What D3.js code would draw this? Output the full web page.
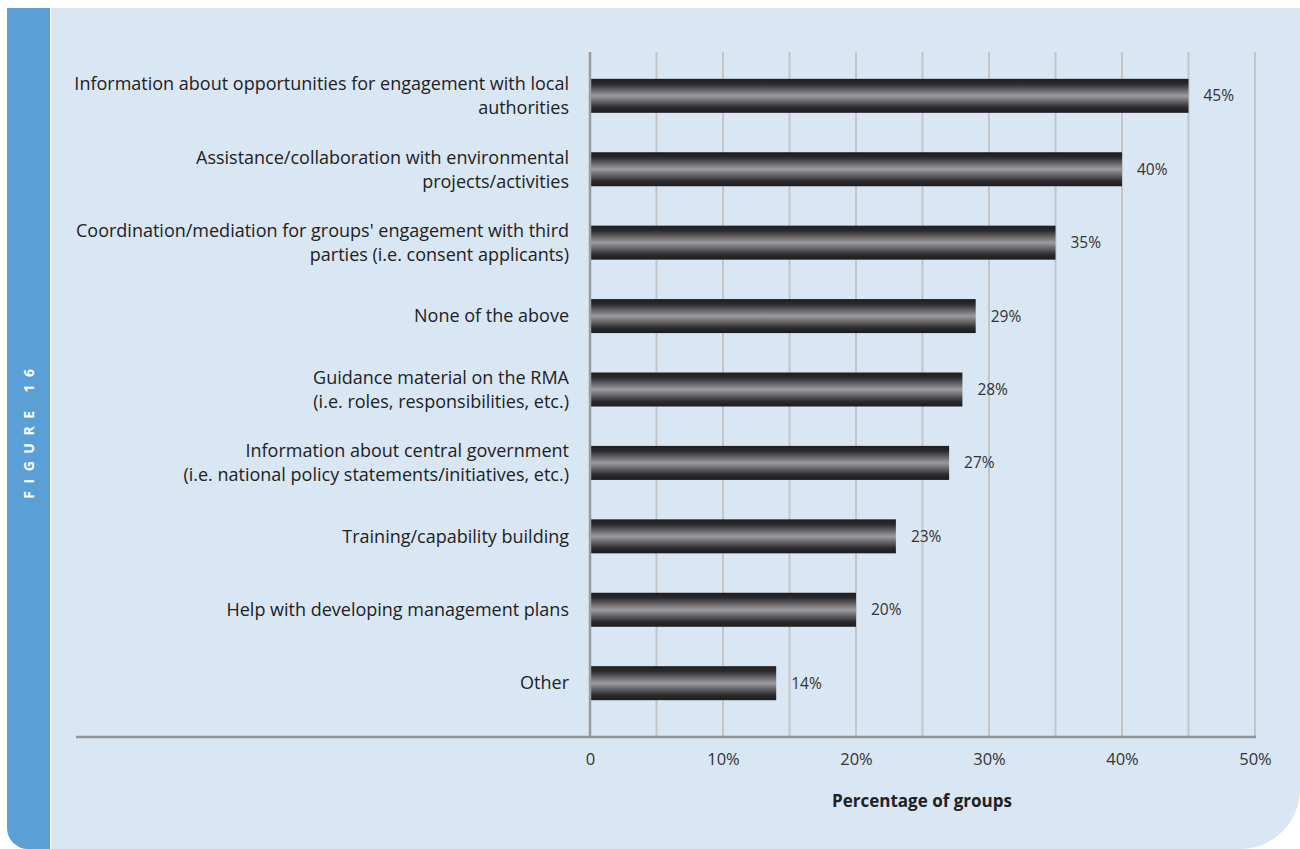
<!DOCTYPE html>
<html>
<head>
<meta charset="utf-8">
<script src="https://cdn.jsdelivr.net/npm/d3@7"></script>
<style>
  html, body { margin: 0; padding: 0; background: #ffffff; }
  svg { display: block; }
</style>
</head>
<body>
<svg id="chart" width="1300" height="849"></svg>
<script>
// Support options, each listed as one or two display lines
const categories = [
  ["Information about opportunities for engagement with local", "authorities"],
  ["Assistance/collaboration with environmental", "projects/activities"],
  ["Coordination/mediation for groups' engagement with third", "parties (i.e. consent applicants)"],
  ["None of the above"],
  ["Guidance material on the RMA", "(i.e. roles, responsibilities, etc.)"],
  ["Information about central government", "(i.e. national policy statements/initiatives, etc.)"],
  ["Training/capability building"],
  ["Help with developing management plans"],
  ["Other"]
];
const values = [45, 40, 35, 29, 28, 27, 23, 20, 14];
const xTicks = [0, 10, 20, 30, 40, 50];
const gridValues = [5, 10, 15, 20, 25, 30, 35, 40, 45, 50];
const figureLabel = "FIGURE 16";
const axisTitle = "Percentage of groups";

const svg = d3.select("#chart");
const FONT = "'Open Sans', 'Noto Sans', sans-serif";

// Frame: side tab and panel
svg.append("path")
  .attr("d", `M51,8 H1300 V789 A60,60 0 0 1 1240,849 H51 Z`)
  .attr("fill", "#d9e6f3");
svg.append("path")
  .attr("d", `M7,8 H50 V849 H28 A21,21 0 0 1 7,828 Z`)
  .attr("fill", "#5a9fd5");
svg.append("text")
  .attr("transform", "translate(34,430) rotate(-90)")
  .attr("text-anchor", "middle")
  .attr("fill", "#ffffff")
  .attr("font-family", FONT)
  .attr("font-weight", "bold")
  .attr("font-size", 14)
  .attr("letter-spacing", 7.5)
  .text(figureLabel);

// Scales
const x = d3.scaleLinear().domain([0, 50]).range([590, 1255]);
const y = d3.scaleBand().domain(d3.range(categories.length)).range([59, 720]).paddingInner(0.537).paddingOuter(0.27);

const plotTop = 52, plotBottom = 737;

// Bar gradient
const defs = svg.append("defs");
const grad = defs.append("linearGradient")
  .attr("id", "barGrad").attr("x1", 0).attr("y1", 0).attr("x2", 0).attr("y2", 1);
[[0, "#1d1c1f"], [0.15, "#2b2b2e"], [0.5, "#9c9c9e"], [0.85, "#2b2b2e"], [1, "#1d1c1f"]]
  .forEach(([o, c]) => grad.append("stop").attr("offset", o).attr("stop-color", c));

// Gridlines
svg.append("g").selectAll("line").data(gridValues).join("line")
  .attr("x1", d => x(d)).attr("x2", d => x(d))
  .attr("y1", plotTop).attr("y2", plotBottom)
  .attr("stroke", "#c3c5c8").attr("stroke-width", 2);

// Bars
svg.append("g").selectAll("rect").data(values).join("rect")
  .attr("x", x(0) + 1)
  .attr("y", (d, i) => y(i))
  .attr("width", d => x(d) - x(0) - 1)
  .attr("height", y.bandwidth())
  .attr("fill", "url(#barGrad)");

// Value axis line (left) and baseline
svg.append("line")
  .attr("x1", x(0)).attr("x2", x(0)).attr("y1", plotTop).attr("y2", plotBottom)
  .attr("stroke", "#9b9c9f").attr("stroke-width", 2.5);
svg.append("line")
  .attr("x1", 76).attr("x2", x(50) + 1).attr("y1", plotBottom).attr("y2", plotBottom)
  .attr("stroke", "#939497").attr("stroke-width", 2.5);

// Value labels
svg.append("g").selectAll("text").data(values).join("text")
  .attr("x", d => x(d) + 15)
  .attr("y", (d, i) => y(i) + y.bandwidth() / 2)
  .attr("dy", "0.35em")
  .attr("font-family", FONT)
  .attr("font-size", 15.5)
  .attr("fill", "#333333")
  .text(d => d + "%");

// Category labels
const catG = svg.append("g");
categories.forEach((lines, i) => {
  const cy = y(i) + y.bandwidth() / 2;
  const lh = 24;
  const t = catG.append("text")
    .attr("text-anchor", "end")
    .attr("font-family", FONT)
    .attr("font-size", 18)
    .attr("fill", "#222222");
  lines.forEach((ln, k) => {
    t.append("tspan")
      .attr("x", 569)
      .attr("y", cy + (k - (lines.length - 1) / 2) * lh)
      .attr("dy", "0.35em")
      .text(ln);
  });
});

// X axis tick labels
const axis = d3.axisBottom(x).tickValues(xTicks).tickSize(0).tickPadding(0)
  .tickFormat(d => d === 0 ? "0" : d + "%");
const ax = svg.append("g").attr("transform", `translate(0,${plotBottom})`).call(axis);
ax.select(".domain").remove();
ax.selectAll("text")
  .attr("y", 22)
  .attr("dy", "0.35em")
  .attr("font-family", FONT)
  .attr("font-size", 16.5)
  .attr("fill", "#333333");

// Axis title
svg.append("text")
  .attr("x", 922).attr("y", 801).attr("dy", "0.35em")
  .attr("text-anchor", "middle")
  .attr("font-family", FONT)
  .attr("font-weight", "bold")
  .attr("font-size", 17)
  .attr("fill", "#222222")
  .text(axisTitle);
</script>
</body>
</html>
